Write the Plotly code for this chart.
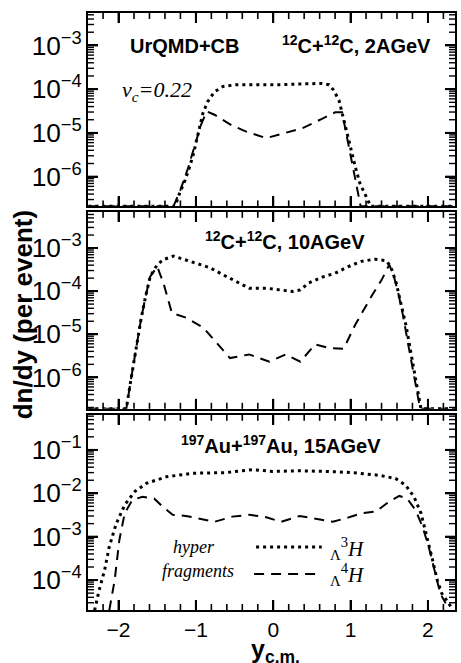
import math
import plotly.graph_objects as go

# ---------------- data ----------------
# Panel 1: 12C+12C, 2 AGeV
p1_h3_y = [-2.39, -1.27, -1.21, -1.14, -1.08, -1.03, -0.99, -0.95, -0.91, -0.85, -0.76, -0.65,
           -0.48, -0.20, 0.10, 0.40, 0.63, 0.72, 0.78, 0.85, 0.89, 0.93, 0.97, 1.02, 1.06,
           1.12, 1.19, 1.26, 2.36]
p1_h3_v = [2.1e-7, 2.1e-7, 4.2e-7, 8.3e-7, 1.7e-6, 3.4e-6, 6.9e-6, 1.38e-5, 2.8e-5, 5.1e-5, 8.7e-5, 1.15e-4,
           1.26e-4, 1.26e-4, 1.26e-4, 1.32e-4, 1.35e-4, 1.26e-4, 9.5e-5, 5.6e-5, 2.8e-5, 1.38e-5, 6.9e-6, 3.4e-6, 1.7e-6,
           7.1e-7, 3.8e-7, 2.1e-7, 2.1e-7]
p1_h4_y = [-2.39, -1.29, -1.20, -1.10, -1.00, -0.93, -0.86, -0.76, -0.54, -0.35, -0.09, 0.12,
           0.38, 0.63, 0.80, 0.89, 0.93, 0.98, 1.03, 1.08, 1.13, 2.36]
p1_h4_v = [2.1e-7, 2.1e-7, 5.0e-7, 1.6e-6, 6.3e-6, 1.6e-5, 3.1e-5, 2.6e-5, 1.5e-5, 1.07e-5, 7.6e-6, 9.8e-6,
           1.29e-5, 2.1e-5, 2.95e-5, 2.95e-5, 1.26e-5, 5.0e-6, 1.8e-6, 5.6e-7, 2.1e-7, 2.1e-7]

# Panel 2: 12C+12C, 10 AGeV
p2_h3_y = [-2.39, -1.90, -1.84, -1.78, -1.71, -1.65, -1.59, -1.50, -1.42, -1.29, -1.16, -0.99,
           -0.82, -0.65, -0.48, -0.31, -0.09, 0.08, 0.25, 0.35, 0.46, 0.63, 0.80, 0.97,
           1.14, 1.31, 1.46, 1.52, 1.59, 1.65, 1.72, 1.78, 1.84, 1.89, 1.91, 2.36]
p2_h3_v = [1.86e-7, 1.86e-7, 8.9e-7, 4.4e-6, 2.2e-5, 7.6e-5, 2.2e-4, 4.1e-4, 5.4e-4, 6.5e-4, 5.5e-4, 4.4e-4,
           3.5e-4, 2.4e-4, 1.7e-4, 1.17e-4, 1.17e-4, 1.07e-4, 9.8e-5, 1.07e-4, 1.55e-4, 2.1e-4, 2.6e-4, 3.7e-4,
           4.9e-4, 5.5e-4, 5.1e-4, 3.7e-4, 1.55e-4, 5.2e-5, 1.5e-5, 3.7e-6, 8.9e-7, 3.0e-7, 1.86e-7, 1.86e-7]
p2_h4_y = [-2.39, -1.90, -1.84, -1.78, -1.71, -1.65, -1.59, -1.50, -1.42, -1.31, -1.12, -0.90,
           -0.73, -0.56, -0.31, -0.05, 0.16, 0.35, 0.54, 0.72, 0.91, 1.06, 1.27, 1.40,
           1.50, 1.56, 1.62, 1.68, 1.74, 1.80, 1.86, 1.90, 2.36]
p2_h4_v = [1.86e-7, 1.86e-7, 8.9e-7, 4.4e-6, 2.2e-5, 7.6e-5, 2.2e-4, 3.7e-4, 1.55e-4, 3.1e-5, 2.4e-5, 1.4e-5,
           6.3e-6, 2.8e-6, 3.4e-6, 2.3e-6, 3.4e-6, 2.3e-6, 5.8e-6, 4.8e-6, 4.6e-6, 1.66e-5, 7.6e-5, 1.8e-4,
           4.1e-4, 2.2e-4, 8.5e-5, 2.6e-5, 6.5e-6, 1.6e-6, 4.5e-7, 1.86e-7, 1.86e-7]

# Panel 3: 197Au+197Au, 15 AGeV
p3_h3_y = [-2.31, -2.25, -2.18, -2.12, -2.03, -1.92, -1.79, -1.64, -1.38, -1.04, -0.61, -0.27,
           -0.01, 0.34, 0.68, 1.02, 1.37, 1.58, 1.71, 1.82, 1.91, 1.99, 2.06, 2.12,
           2.18, 2.27, 2.31]
p3_h3_v = [2.0e-5, 5.9e-5, 1.7e-4, 5.9e-4, 2.0e-3, 5.4e-3, 1.1e-2, 1.7e-2, 2.4e-2, 2.9e-2, 3.0e-2, 3.5e-2,
           3.2e-2, 3.3e-2, 3.2e-2, 3.0e-2, 2.6e-2, 2.2e-2, 1.55e-2, 8.3e-3, 3.5e-3, 1.0e-3, 2.9e-4, 1.0e-4,
           4.9e-5, 2.9e-5, 2.2e-5]
p3_h4_y = [-2.12, -2.05, -1.99, -1.92, -1.82, -1.69, -1.54, -1.43, -1.30, -1.13, -0.95, -0.76,
           -0.53, -0.31, -0.09, 0.10, 0.34, 0.55, 0.77, 0.98, 1.15, 1.33, 1.50, 1.63,
           1.73, 1.84, 1.93, 2.01, 2.10, 2.16, 2.23]
p3_h4_v = [2.0e-5, 1.0e-4, 8.3e-4, 3.5e-3, 7.1e-3, 8.3e-3, 7.6e-3, 4.9e-3, 3.2e-3, 3.0e-3, 2.6e-3, 2.2e-3,
           2.9e-3, 3.2e-3, 2.8e-3, 2.2e-3, 3.0e-3, 2.6e-3, 2.2e-3, 2.8e-3, 3.5e-3, 3.8e-3, 6.5e-3, 8.7e-3,
           7.6e-3, 4.1e-3, 1.7e-3, 5.9e-4, 1.4e-4, 4.9e-5, 2.9e-5]

panels = [
    (p1_h3_y, p1_h3_v, p1_h4_y, p1_h4_v),
    (p2_h3_y, p2_h3_v, p2_h4_y, p2_h4_v),
    (p3_h3_y, p3_h3_v, p3_h4_y, p3_h4_v),
]

y_ranges = [[-6.68, -2.26], [-6.73, -2.16], [-4.69, -0.19]]
x_range = [-2.395, 2.35]

domains = [[0.676, 1.0], [0.337, 0.667], [0.0, 0.327]]

W, H = 461, 663
ML, MR, MT, MB = 88, 4, 13, 53
PW, PH = W - ML - MR, H - MT - MB

SANS = "Liberation Sans, Arial, Helvetica, sans-serif"
SERIF = "Liberation Serif, Times New Roman, serif"

fig = go.Figure()

for i, (hy3, hv3, hy4, hv4) in enumerate(panels):
    xa = "x" if i == 0 else f"x{i+1}"
    ya = "y" if i == 0 else f"y{i+1}"
    fig.add_trace(go.Scatter(x=hy4, y=hv4, mode="lines", xaxis=xa, yaxis=ya,
                             line=dict(color="black", width=2, dash="10px,7px"),
                             showlegend=False, hoverinfo="skip"))
    fig.add_trace(go.Scatter(x=hy3, y=hv3, mode="lines", xaxis=xa, yaxis=ya,
                             line=dict(color="black", width=3, dash="3px,4px"),
                             showlegend=False, hoverinfo="skip"))

layout = dict(
    width=W, height=H,
    margin=dict(l=ML, r=MR, t=MT, b=MB),
    paper_bgcolor="white", plot_bgcolor="white",
    font=dict(family=SANS, color="black", size=19),
)

for i in range(3):
    xk = "xaxis" if i == 0 else f"xaxis{i+1}"
    yk = "yaxis" if i == 0 else f"yaxis{i+1}"
    ya = "y" if i == 0 else f"y{i+1}"
    xa = "x" if i == 0 else f"x{i+1}"
    layout[xk] = dict(
        domain=[0, 1], anchor=ya, range=x_range,
        showline=True, linewidth=2, linecolor="black", mirror="ticks",
        ticks="inside", ticklen=10, tickwidth=2, tickcolor="black",
        tickmode="linear", tick0=0, dtick=1,
        showticklabels=(i == 2), showgrid=False, zeroline=False,
        tickfont=dict(family=SANS, size=21),
    )
    if i > 0:
        layout[xk]["matches"] = "x"
    layout[yk] = dict(
        domain=domains[i], anchor=xa, type="log", range=y_ranges[i],
        showline=True, linewidth=2, linecolor="black", mirror="ticks",
        ticks="inside", ticklen=10, tickwidth=2, tickcolor="black",
        tickmode="linear", tick0=0, dtick=1,
        exponentformat="power", showexponent="all",
        showgrid=False, zeroline=False,
        tickfont=dict(family=SANS, size=21),
    )

fig.update_layout(**layout)

# ---- inside tick marks (major + minor) on all four sides of each panel, in paper coords ----
MAJ_LEN, MIN_LEN = 10, 6
tick_shapes = []
for i in range(3):
    d0, d1 = domains[i]
    r0, r1 = y_ranges[i]
    for k in range(-15, 16):
        val = round(k * 0.2, 6)
        if not (x_range[0] < val < x_range[1]):
            continue
        major = abs(val - round(val)) < 1e-6
        L = (MAJ_LEN if major else MIN_LEN) / PH
        w = 2 if major else 1.6
        xp = (val - x_range[0]) / (x_range[1] - x_range[0])
        tick_shapes.append(dict(type="line", xref="paper", yref="paper",
                                x0=xp, x1=xp, y0=d0, y1=d0 + L,
                                line=dict(color="black", width=w)))
        tick_shapes.append(dict(type="line", xref="paper", yref="paper",
                                x0=xp, x1=xp, y0=d1, y1=d1 - L,
                                line=dict(color="black", width=w)))
    for e in range(-8, 1):
        for m in range(1, 10):
            lv = e + math.log10(m)
            if not (r0 < lv < r1):
                continue
            yp = d0 + (lv - r0) / (r1 - r0) * (d1 - d0)
            major = (m == 1)
            L = (MAJ_LEN if major else MIN_LEN) / PW
            w = 2 if major else 1.4
            tick_shapes.append(dict(type="line", xref="paper", yref="paper",
                                    x0=0, x1=L, y0=yp, y1=yp,
                                    line=dict(color="black", width=w)))
            tick_shapes.append(dict(type="line", xref="paper", yref="paper",
                                    x0=1, x1=1 - L, y0=yp, y1=yp,
                                    line=dict(color="black", width=w)))

def px_x(p):
    return (p - ML) / PW

def px_y(p):
    return (H - MB - p) / PH

ann = [
    dict(text="<b>UrQMD+CB</b>", x=px_x(185.5), y=px_y(46), size=20, fam=SANS),
    dict(text="<b><sup>12</sup>C+<sup>12</sup>C, 2AGeV</b>", x=px_x(358), y=px_y(44), size=20, fam=SANS),
    dict(text="<i>v<sub>c</sub>=0.22</i>", x=px_x(157), y=px_y(91), size=22, fam=SERIF),
    dict(text="<b><sup>12</sup>C+<sup>12</sup>C, 10AGeV</b>", x=px_x(286), y=px_y(240), size=20, fam=SANS),
    dict(text="<b><sup>197</sup>Au+<sup>197</sup>Au, 15AGeV</b>", x=px_x(282.5), y=px_y(444), size=20, fam=SANS),
    dict(text="<i>hyper</i>", x=px_x(195), y=px_y(547), size=18, fam=SERIF),
    dict(text="<i>fragments</i>", x=px_x(198.5), y=px_y(571), size=18, fam=SERIF),
    dict(text="<sub>\u039b</sub><sup>3</sup><i>H</i>", x=px_x(349), y=px_y(548), size=21, fam=SERIF),
    dict(text="<sub>\u039b</sub><sup>4</sup><i>H</i>", x=px_x(349), y=px_y(574), size=21, fam=SERIF),
]
annotations = []
for a in ann:
    annotations.append(dict(text=a["text"], x=a["x"], y=a["y"], xref="paper", yref="paper",
                            xanchor="center", yanchor="middle", showarrow=False,
                            font=dict(family=a["fam"], size=a["size"], color="black")))

# axis titles
annotations.append(dict(text="<b>dn/dy (per event)</b>", x=px_x(23), y=px_y(315),
                        xref="paper", yref="paper", textangle=-90, showarrow=False,
                        xanchor="center", yanchor="middle",
                        font=dict(family=SANS, size=26, color="black")))
annotations.append(dict(text="<b>y<sub>c.m.</sub></b>", x=px_x(277), y=px_y(651),
                        xref="paper", yref="paper", showarrow=False,
                        xanchor="center", yanchor="middle",
                        font=dict(family=SANS, size=25, color="black")))
fig.update_layout(annotations=annotations)

# legend samples (in panel 3)
legend_shapes = [
    dict(type="line", xref="paper", yref="paper", x0=px_x(257), x1=px_x(323),
         y0=px_y(547), y1=px_y(547), line=dict(color="black", width=3, dash="3px,4px")),
    dict(type="line", xref="paper", yref="paper", x0=px_x(255), x1=px_x(322),
         y0=px_y(574), y1=px_y(574), line=dict(color="black", width=2, dash="10px,7px")),
]
fig.update_layout(shapes=tick_shapes + legend_shapes)

fig.write_html("out.html", config={"displayModeBar": False},
               post_script="document.body.style.margin='0';document.body.style.overflow='hidden';")
